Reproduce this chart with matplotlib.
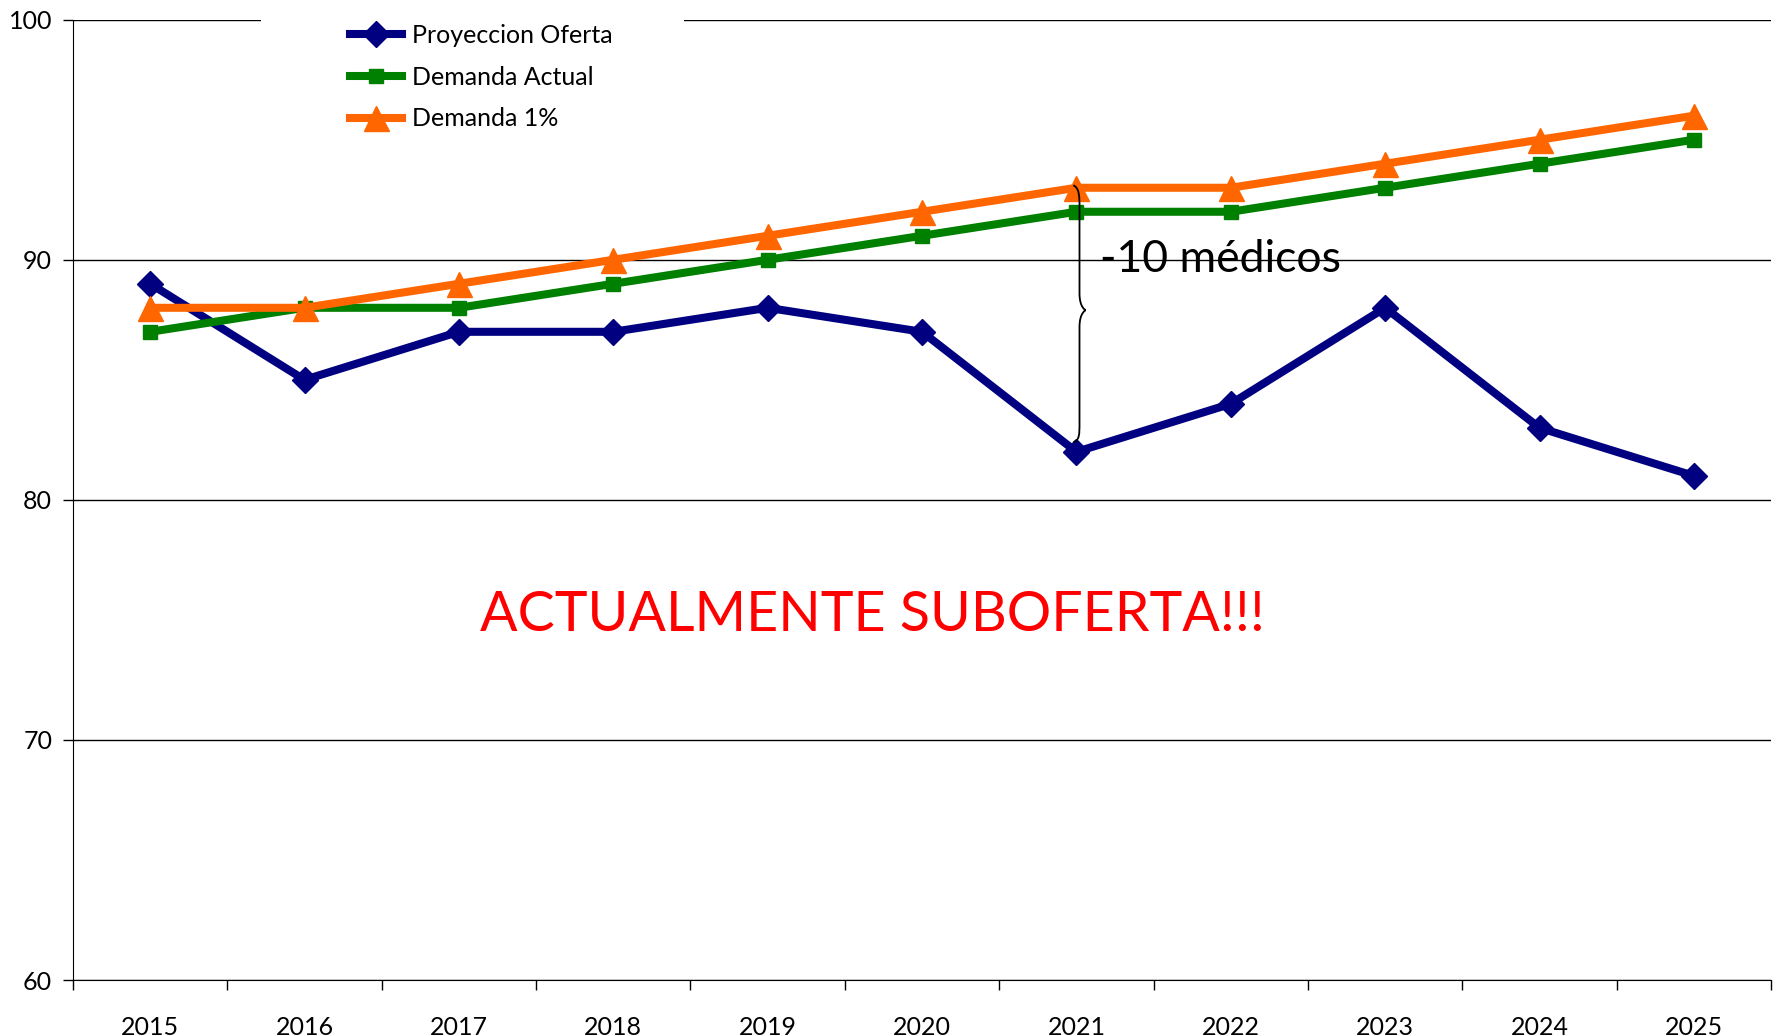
"""
Proyeccion de oferta vs demanda de medicos 2015-2025
"""

import matplotlib
matplotlib.use("Agg")
import matplotlib.pyplot as plt
from matplotlib.path import Path
from matplotlib.patches import PathPatch, Rectangle

plt.rcParams['font.family'] = ['Lato', 'DejaVu Sans']

# -------- DATA ----------
years = ["2015", "2016", "2017", "2018", "2019", "2020",
         "2021", "2022", "2023", "2024", "2025"]
oferta = [89, 85, 87, 87, 88, 87, 82, 84, 88, 83, 81]
demanda_actual = [87, 88, 88, 89, 90, 91, 92, 92, 93, 94, 95]
demanda_1 = [88, 88, 89, 90, 91, 92, 93, 93, 94, 95, 96]

# -------- PLOT ----------
fig = plt.figure(figsize=(17.8, 10.36), dpi=100)
ax = fig.add_axes([0.041, 0.054, 0.954, 0.927])

x = list(range(len(years)))
ax.plot(x, oferta, color="#000080", lw=5.8, marker="D", ms=13,
        label="Proyeccion Oferta", zorder=3)
ax.plot(x, demanda_actual, color="#008000", lw=5.8, marker="s", ms=10,
        label="Demanda Actual", zorder=3)
ax.plot(x, demanda_1, color="#FF6600", lw=5.8, marker="^", ms=18,
        label="Demanda 1%", zorder=3)

ax.set_xlim(-0.5, len(years) - 0.5)
ax.set_ylim(60, 100)
ax.set_yticks([60, 70, 80, 90, 100])
ax.set_xticks(x)
ax.set_xticklabels(years)
ax.set_xticks([i - 0.5 for i in range(len(years) + 1)], minor=True)
ax.tick_params(axis="x", which="major", length=0, pad=26, labelsize=18)
ax.tick_params(axis="x", which="minor", length=7, width=1, direction="out")
ax.tick_params(axis="y", length=7, width=1, pad=8, labelsize=18)

ax.grid(axis="y", color="black", lw=1)
ax.set_axisbelow(True)
for s in ["top", "right"]:
    ax.spines[s].set_visible(False)

# white gap in the top gridline behind the legend
ax.add_patch(Rectangle((0.111, 0.97), 0.249, 0.06, transform=ax.transAxes,
                       facecolor="white", edgecolor="none", clip_on=False, zorder=1))
ax.legend(loc="upper left", bbox_to_anchor=(0.157, 1.006), frameon=False,
          fontsize=18, handlelength=2.1, labelspacing=0.75, borderaxespad=0,
          handletextpad=0.4)

# brace at 2021
bx = 6.0
verts = [(bx - 0.02, 93.1), (bx + 0.02, 93.0), (bx + 0.02, 92.6), (bx + 0.02, 92.2),
         (bx + 0.02, 88.6),
         (bx + 0.02, 88.0), (bx + 0.06, 87.9), (bx + 0.06, 87.9),
         (bx + 0.06, 87.9), (bx + 0.02, 87.8), (bx + 0.02, 87.2),
         (bx + 0.02, 83.2),
         (bx + 0.02, 82.7), (bx + 0.02, 82.5), (bx - 0.02, 82.4)]
codes = [Path.MOVETO, Path.CURVE4, Path.CURVE4, Path.CURVE4,
         Path.LINETO,
         Path.CURVE4, Path.CURVE4, Path.CURVE4,
         Path.CURVE4, Path.CURVE4, Path.CURVE4,
         Path.LINETO,
         Path.CURVE4, Path.CURVE4, Path.CURVE4]
ax.add_patch(PathPatch(Path(verts, codes), facecolor="none", edgecolor="black",
                       lw=1.3, zorder=4))

ax.text(6.15, 90, "-10 médicos", fontsize=32, ha="left", va="center", zorder=5)
ax.text(4.68, 75.2, "ACTUALMENTE SUBOFERTA!!!", fontsize=40, color="red",
        ha="center", va="center")

plt.savefig("out.png", dpi=100)
